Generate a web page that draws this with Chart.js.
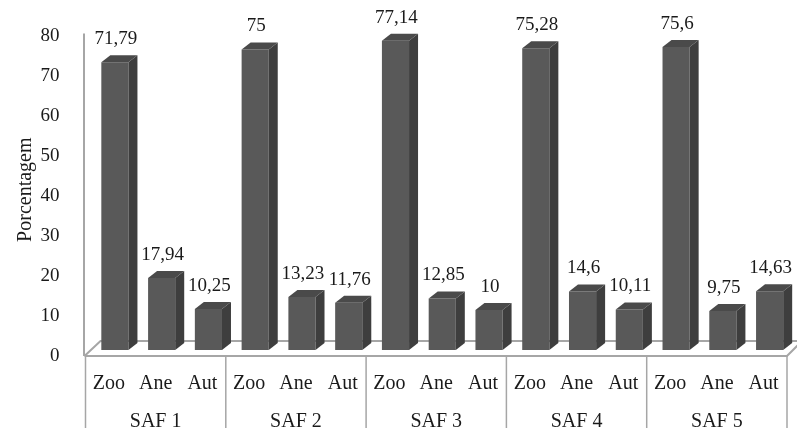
<!DOCTYPE html>
<html>
<head>
<meta charset="utf-8">
<script src="https://cdn.jsdelivr.net/npm/chart.js@4.4.0/dist/chart.umd.min.js"></script>
<style>
  html, body { margin: 0; padding: 0; background: #ffffff; }
  #wrap { width: 797px; height: 428px; }
</style>
</head>
<body>
<div id="wrap"><canvas id="chart" width="797" height="428"></canvas></div>
<script>
// Dispersal syndromes per agroforestry system (SAF), in percent
const categories = ['Zoo', 'Ane', 'Aut', 'Zoo', 'Ane', 'Aut', 'Zoo', 'Ane', 'Aut', 'Zoo', 'Ane', 'Aut', 'Zoo', 'Ane', 'Aut'];
const groups = ['SAF 1', 'SAF 2', 'SAF 3', 'SAF 4', 'SAF 5'];
const values = [71.79, 17.94, 10.25, 75, 13.23, 11.76, 77.14, 12.85, 10, 75.28, 14.6, 10.11, 75.6, 9.75, 14.63];
const yTicks = [0, 10, 20, 30, 40, 50, 60, 70, 80];

const FONT = '"Liberation Serif", "Times New Roman", serif';
const TEXT = '#1a1a1a';
const FRAME = '#a6a6a6';
const FRONT = '#595959';
const SIDE = '#3e3e3e';
const TOP = '#4a4a4a';
const DEPTH_X = 9, DEPTH_Y = 7, SHIFT = 6;

const fmt = v => String(v).replace('.', ',');

const box3d = {
  id: 'box3d',
  beforeDatasetsDraw(chart) {
    const { ctx, chartArea } = chart;
    const x2 = chart.scales.x2;
    const front = chartArea.bottom + 6, back = front - 15;
    ctx.save();
    ctx.strokeStyle = FRAME;
    ctx.lineWidth = 2;
    // floor
    ctx.beginPath();
    ctx.moveTo(chartArea.left - 1, front);
    ctx.lineTo(chartArea.right, front);
    ctx.lineTo(chartArea.right + 15, back);
    ctx.moveTo(chartArea.left - 1, front);
    ctx.lineTo(chartArea.left + 15, back);
    ctx.lineTo(chart.width, back);
    ctx.stroke();
    // wall edge along the value axis
    ctx.beginPath();
    ctx.moveTo(chartArea.left - 1.5, chart.scales.y.getPixelForValue(80) + 4);
    ctx.lineTo(chartArea.left - 1.5, front);
    ctx.stroke();
    // group separators through both label rows
    ctx.lineWidth = 1.5;
    const step = (x2.right - x2.left) / groups.length;
    ctx.beginPath();
    for (let k = 0; k <= groups.length; k++) {
      const px = x2.left + k * step;
      ctx.moveTo(px, front);
      ctx.lineTo(px, chart.height);
    }
    ctx.stroke();
    ctx.restore();
    ctx.save();
    ctx.translate(SHIFT, 0);
  },
  afterDatasetsDraw(chart) {
    const { ctx } = chart;
    const meta = chart.getDatasetMeta(0);
    meta.data.forEach(bar => {
      const l = bar.x - bar.width / 2, r = bar.x + bar.width / 2;
      const t = bar.y, b = bar.base;
      ctx.fillStyle = SIDE;
      ctx.beginPath();
      ctx.moveTo(r, t);
      ctx.lineTo(r + DEPTH_X, t - DEPTH_Y);
      ctx.lineTo(r + DEPTH_X, b - DEPTH_Y);
      ctx.lineTo(r, b);
      ctx.closePath();
      ctx.fill();
      ctx.fillStyle = TOP;
      ctx.beginPath();
      ctx.moveTo(l, t);
      ctx.lineTo(l + DEPTH_X, t - DEPTH_Y);
      ctx.lineTo(r + DEPTH_X, t - DEPTH_Y);
      ctx.lineTo(r, t);
      ctx.closePath();
      ctx.fill();
    });
    // value labels
    ctx.fillStyle = TEXT;
    ctx.font = '19px ' + FONT;
    ctx.textAlign = 'center';
    ctx.textBaseline = 'middle';
    meta.data.forEach((bar, i) => {
      ctx.fillText(fmt(values[i]), bar.x + 1, bar.y - 23);
    });
    ctx.restore();
  }
};

new Chart(document.getElementById('chart'), {
  type: 'bar',
  data: {
    labels: categories,
    datasets: [{
      data: values,
      backgroundColor: FRONT,
      borderWidth: 0,
      barPercentage: 0.58,
      categoryPercentage: 1.0,
      xAxisID: 'x',
      yAxisID: 'y'
    }]
  },
  options: {
    responsive: false,
    animation: false,
    events: [],
    layout: { padding: { top: 29, right: 10, left: 0, bottom: 0 } },
    plugins: { legend: { display: false }, tooltip: { enabled: false } },
    scales: {
      y: {
        min: 0,
        max: 80,
        afterBuildTicks: axis => { axis.ticks = yTicks.map(v => ({ value: v })); },
        afterFit: axis => { axis.width = 85.5; },
        grid: { display: false },
        border: { display: false },
        ticks: {
          color: TEXT,
          font: { family: FONT, size: 19 },
          padding: 18,
          labelOffset: 6.5
        },
        title: {
          display: true,
          text: 'Porcentagem',
          color: TEXT,
          font: { family: FONT, size: 20 },
          padding: { top: 14, bottom: 0 }
        }
      },
      x: {
        position: 'bottom',
        afterFit: axis => { axis.height = 40; },
        grid: { display: false },
        border: { display: false },
        ticks: {
          color: TEXT,
          font: { family: FONT, size: 20 },
          padding: 14,
          maxRotation: 0,
          autoSkip: false
        }
      },
      x2: {
        type: 'category',
        labels: groups,
        position: 'bottom',
        offset: true,
        afterFit: axis => { axis.height = 38; },
        grid: { display: false },
        border: { display: false },
        ticks: {
          color: TEXT,
          font: { family: FONT, size: 20 },
          padding: 12,
          maxRotation: 0,
          autoSkip: false
        }
      }
    }
  },
  plugins: [box3d]
});
</script>
</body>
</html>
